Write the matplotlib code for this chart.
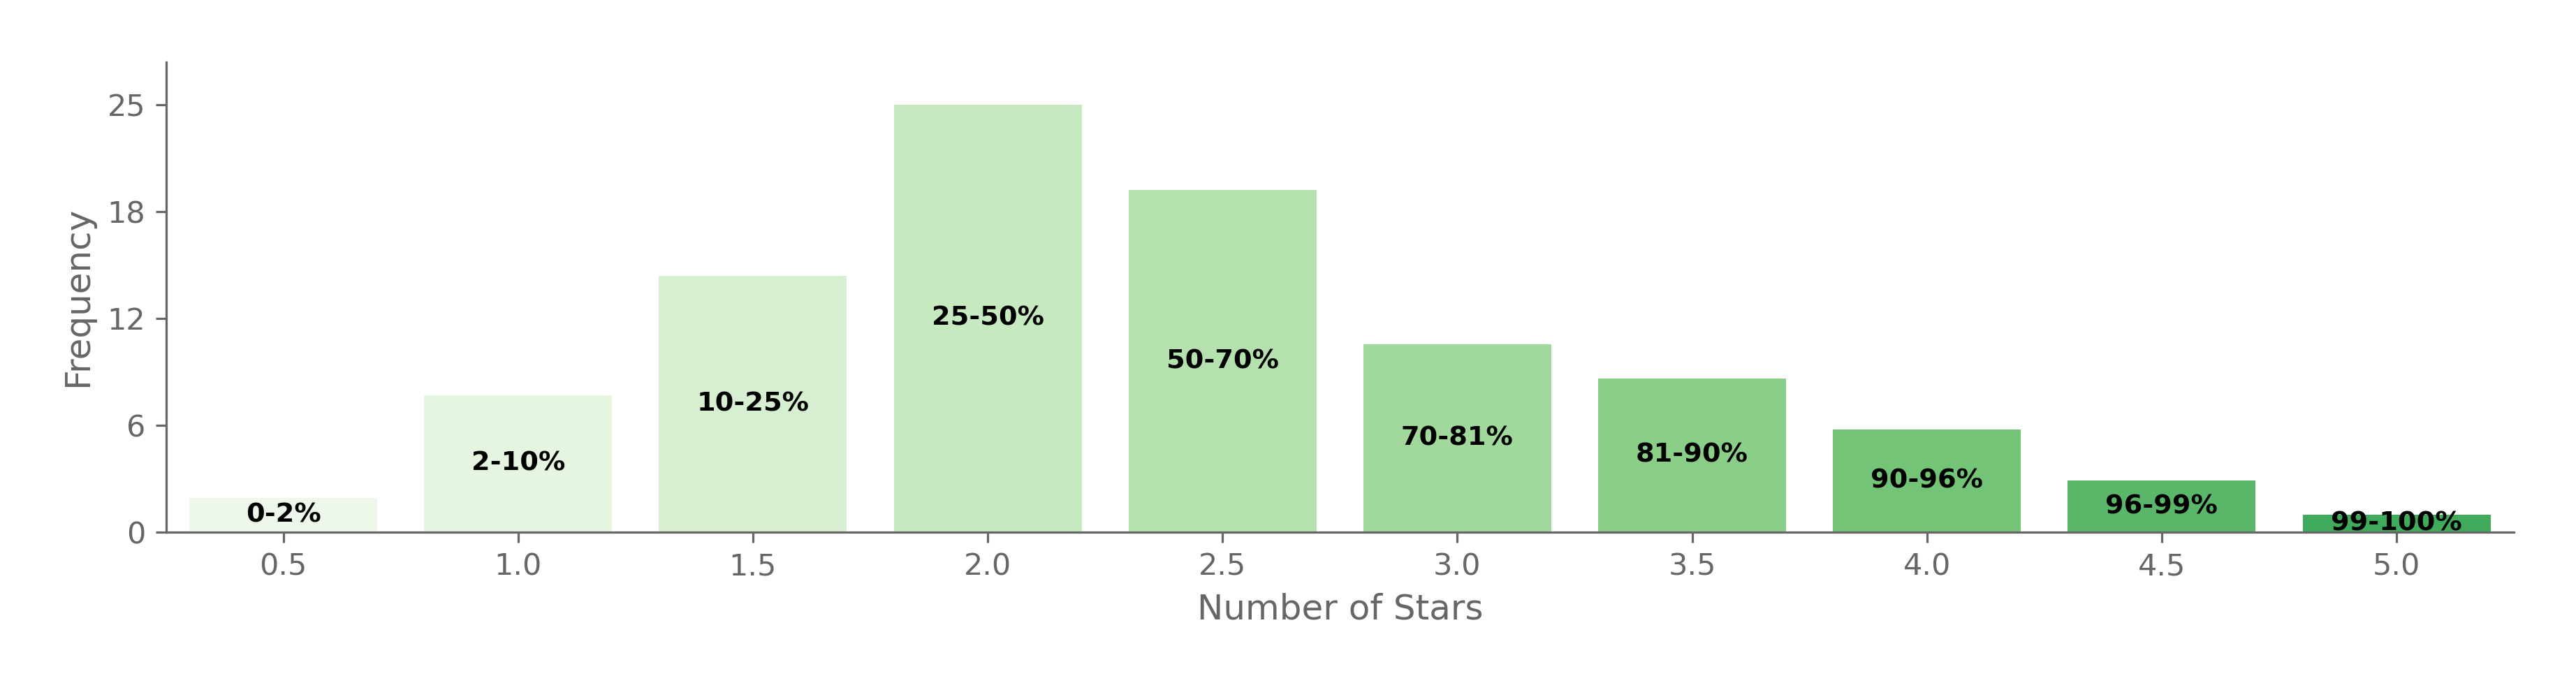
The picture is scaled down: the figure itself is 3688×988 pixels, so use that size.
import matplotlib
matplotlib.use("Agg")
import matplotlib.pyplot as plt
import numpy as np

stars = [0.5, 1.0, 1.5, 2.0, 2.5, 3.0, 3.5, 4.0, 4.5, 5.0]
frequency = [2, 8, 15, 25, 20, 11, 9, 6, 3, 1]
percentile_labels = ["0-2%", "2-10%", "10-25%", "25-50%", "50-70%",
                     "70-81%", "81-90%", "90-96%", "96-99%", "99-100%"]
ytick_values = [0, 6.25, 12.5, 18.75, 25]
ytick_labels = ["0", "6", "12", "18", "25"]
xtick_labels = ["0.5", "1.0", "1.5", "2.0", "2.5", "3.0", "3.5", "4.0", "4.5", "5.0"]

gray = "#666666"
colors = plt.cm.Greens(np.linspace(0.0625, 0.625, len(stars)))

fig = plt.figure(figsize=(36.88, 9.88), dpi=100)
ax = fig.add_axes([0.0644, 0.229, 0.9115, 0.681])

bars = ax.bar(stars, frequency, width=0.4, color=colors, edgecolor="none")
for x, h, lab in zip(stars, frequency, percentile_labels):
    ax.text(x, h / 2, lab, ha="center", va="center", fontsize=27.5,
            fontweight="bold", color="black")

ax.set_xlim(0.25, 5.25)
ax.set_ylim(0, 27.5)
ax.set_xticks(stars)
ax.set_xticklabels(xtick_labels)
ax.set_yticks(ytick_values)
ax.set_yticklabels(ytick_labels)

for s in ["top", "right"]:
    ax.spines[s].set_visible(False)
for s in ["left", "bottom"]:
    ax.spines[s].set_color(gray)
    ax.spines[s].set_linewidth(2.3)

ax.tick_params(axis="both", colors=gray, labelsize=31, length=11, width=2.3, pad=10)
ax.set_xlabel("Number of Stars", fontsize=36, color=gray, labelpad=11)
ax.set_ylabel("Frequency", fontsize=36, color=gray, labelpad=13)

fig.savefig("out.png", dpi=100)
